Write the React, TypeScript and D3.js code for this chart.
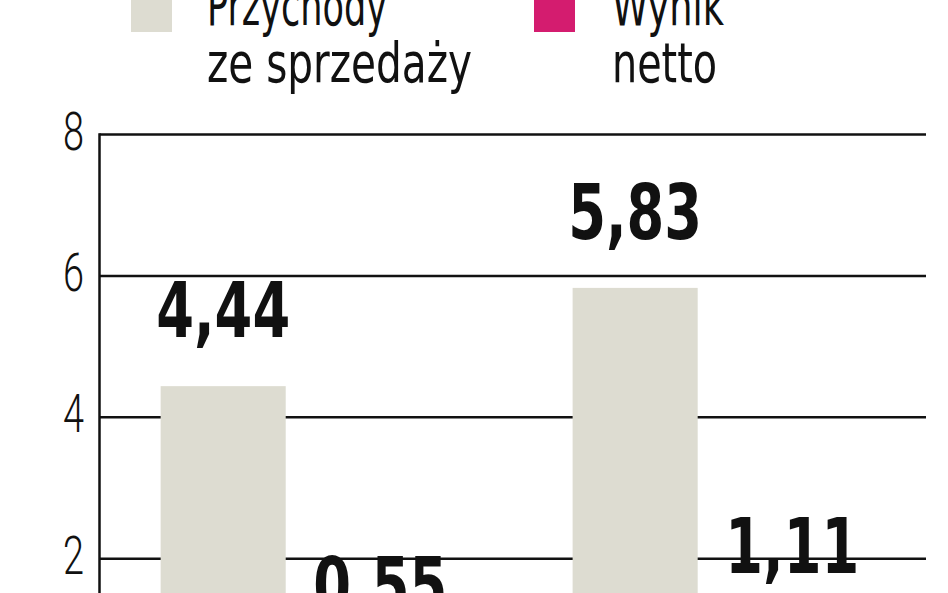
import React from "react";
import * as d3 from "d3";

const categories = ["Okres 1", "Okres 2"];
const seriesNames = ["Przychody ze sprzedaży", "Wynik netto"];
const revenue = [4.44, 5.83];
const netIncome = [0.55, 1.11];
const valueLabels = [["4,44", "0,55"], ["5,83", "1,11"]];
const yTicks = [2, 4, 6, 8];
const legendLines = [["Przychody", "ze sprzedaży"], ["Wynik", "netto"]];
const colors = ["#dddcd1", "#d41c6f"];

const W = 948;
const H = 593;
const FONT = "'Liberation Sans Narrow', 'DejaVu Sans Condensed', 'Arial Narrow', sans-serif";
const LIGHT = "Roboto, 'Open Sans', sans-serif";

export default function App() {
  const axisX = 99.5;
  const rightX = 926;
  const y = d3.scaleLinear().domain([0, 8]).range([700, 134.5]);
  const x0 = d3
    .scaleBand<string>()
    .domain(categories)
    .range([100, 926])
    .paddingInner(0.315)
    .paddingOuter(0.16)
    .align(0.46);
  const x1 = d3
    .scaleBand<string>()
    .domain(seriesNames)
    .range([0, x0.bandwidth()])
    .paddingInner(0.204);

  const values = [revenue, netIncome];

  return (
    <svg
      width={W}
      height={H}
      style={{ position: "absolute", left: 0, top: 0, background: "#fff" }}
      fontFamily={FONT}
    >
      <rect x={0} y={0} width={W} height={H} fill="#fff" />
      {/* legend */}
      {seriesNames.map((s, i) => {
        const lx = i === 0 ? 131 : 534;
        const tx = i === 0 ? 207 : 612;
        return (
          <g key={s}>
            <rect x={lx} y={-10} width={41} height={42} fill={colors[i]} />
            {legendLines[i].map((line, j) => (
              <text
                key={j}
                x={tx}
                y={25 + j * 57}
                fontSize={56}
                fill="#111"
                textLength={i === 0 ? (j === 0 ? 180 : 265) : j === 0 ? 112 : 105}
                lengthAdjust="spacingAndGlyphs"
              >
                {line}
              </text>
            ))}
          </g>
        );
      })}
      {/* gridlines */}
      {yTicks.map((t) => (
        <g key={t}>
          <line x1={axisX} x2={rightX} y1={y(t)} y2={y(t)} stroke="#111" strokeWidth={2.5} />
          <text
            x={84}
            y={y(t) + 15}
            textAnchor="end"
            fontSize={53}
            fontWeight={300}
            fontFamily={LIGHT}
            fill="#111"
            textLength={21}
            lengthAdjust="spacingAndGlyphs"
          >
            {t}
          </text>
        </g>
      ))}
      <line x1={axisX} x2={axisX} y1={y(8) - 1.25} y2={H + 10} stroke="#111" strokeWidth={2.5} />
      {/* bars */}
      {categories.map((c, ci) => (
        <g key={c} transform={`translate(${x0(c)},0)`}>
          {seriesNames.map((s, si) => {
            const v = values[si][ci];
            const bx = x1(s)!;
            const bw = x1.bandwidth();
            return (
              <g key={s}>
                <rect x={bx} y={y(v)} width={bw} height={y(0) - y(v)} fill={colors[si]} />
                <text
                  x={bx + bw / 2}
                  y={y(v) - 49}
                  textAnchor="middle"
                  fontSize={76}
                  fontWeight="bold"
                  fill="#111"
                  textLength={134}
                  lengthAdjust="spacingAndGlyphs"
                >
                  {valueLabels[ci][si]}
                </text>
              </g>
            );
          })}
        </g>
      ))}
    </svg>
  );
}
